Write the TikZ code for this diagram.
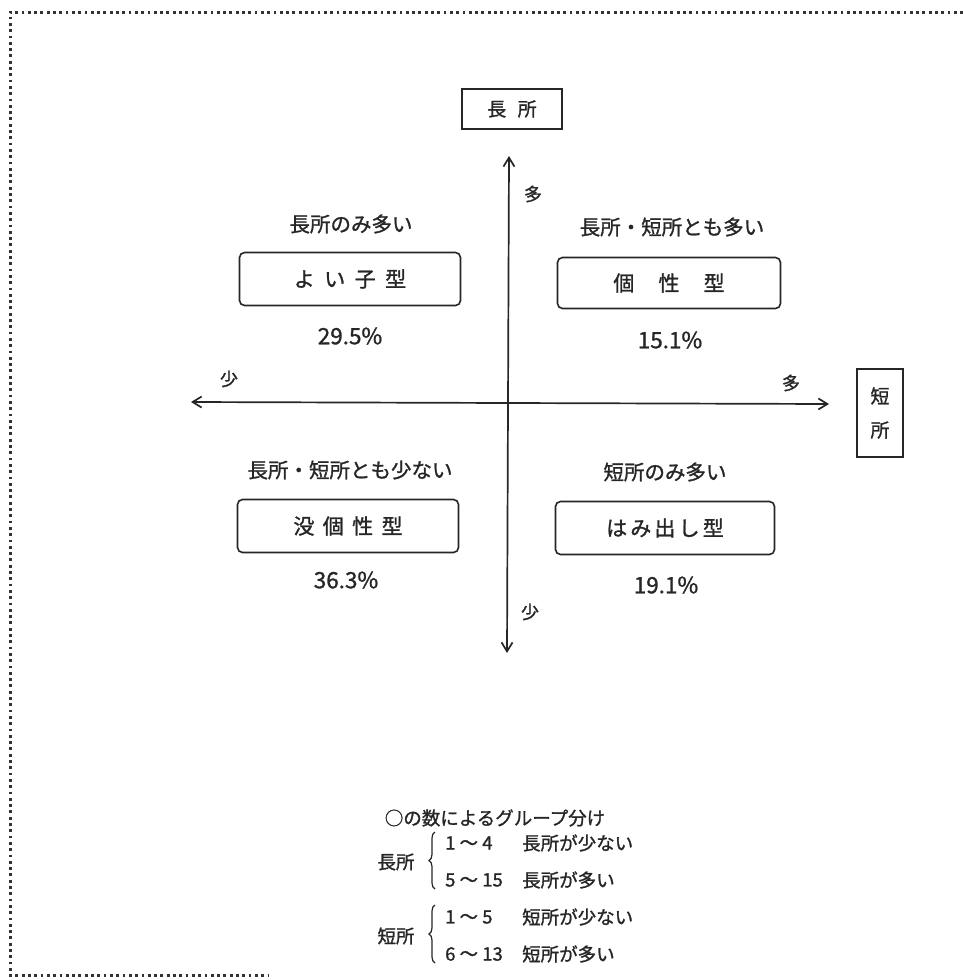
\documentclass[tikz,border=0pt]{standalone}
\usepackage{fontspec}
\setmainfont{Noto Sans CJK JP}[FakeBold=1.2]
\usetikzlibrary{arrows.meta,decorations.pathreplacing}
\begin{document}
\begin{tikzpicture}[x=1pt,y=-1pt,
  typebox/.style={draw=black!85, line width=1.6pt, rounded corners=5pt, minimum width=221pt, minimum height=53pt, inner sep=0pt, font=\fontsize{21}{24}\selectfont, text=black!85},
  axisbox/.style={draw=black!85, line width=1.6pt, inner sep=0pt, text=black!85, font=\fontsize{19}{22}\selectfont},
  lbl/.style={font=\fontsize{20.5}{24}\selectfont, text=black!85, inner sep=0pt},
  pct/.style={font=\fontsize{22.5}{26}\selectfont, text=black!85, inner sep=0pt},
  axislbl/.style={font=\fontsize{18}{20}\selectfont, text=black!85, inner sep=0pt},
  leg/.style={font=\fontsize{18.5}{21}\selectfont, text=black!85, inner sep=0pt},
  axisline/.style={draw=black!85, line width=1.7pt, {Straight Barb[length=9pt,width=11pt,line width=1.7pt]}-{Straight Barb[length=9pt,width=11pt,line width=1.7pt]}},
  dotline/.style={draw=black!80, line width=3pt, dash pattern=on 2.8pt off 3.5pt},
  legbrace/.style={draw=black!85, line width=1.2pt, decorate, decoration={brace, amplitude=6pt}}
]
\useasboundingbox (0,0) rectangle (963,980);

% dotted frame
\coordinate (fTR) at (963,12);
\coordinate (fTL) at (10,12);
\coordinate (fBL) at (10,975);
\coordinate (fBR) at (268,975);
\draw[dotline] (fTR) -- (fTL) -- (fBL) -- (fBR);

% axis boxes
\node[axisbox, minimum width=100pt, minimum height=40pt] (top) at (512,109) {長\hspace{0.6em}所};
\node[axisbox, minimum width=46pt, minimum height=88pt, align=center, font=\fontsize{19}{34}\selectfont] (right) at (880,413) {短\\所};

% axes
\coordinate (vT) at (509,156);
\coordinate (vB) at (507,653);
\coordinate (hL) at (191,402);
\coordinate (hR) at (829,404);
\draw[axisline] (vB) -- (vT);
\draw[axisline] (hL) -- (hR);

\node[axislbl] (mtop) at (533,194) {多};
\node[axislbl] (sbot) at (530,612) {少};
\node[axislbl] (sleft) at (229,379) {少};
\node[axislbl] (mright) at (791,383) {多};

% quadrant 1
\node[lbl] (l1) at (351,224) {長所のみ多い};
\node[typebox] (b1) at (350,279) {よ\hspace{0.45em}い\hspace{0.45em}子\hspace{0.45em}型};
\node[pct] (p1) at (350,336) {29.5\%};

% quadrant 2
\node[lbl] (l2) at (672,227) {長所・短所とも多い};
\node[typebox, minimum width=223pt, minimum height=51pt] (b2) at (669,283) {個\hspace{1.15em}性\hspace{1.15em}型};
\node[pct] (p2) at (670,340) {15.1\%};

% quadrant 3
\node[lbl] (l3) at (350,470) {長所・短所とも少ない};
\node[typebox] (b3) at (348,526) {没\hspace{0.4em}個\hspace{0.4em}性\hspace{0.4em}型};
\node[pct] (p3) at (346,580) {36.3\%};

% quadrant 4
\node[lbl] (l4) at (665,472) {短所のみ多い};
\node[typebox, minimum width=219pt] (b4) at (665,528) {は\hspace{0.15em}み\hspace{0.15em}出\hspace{0.15em}し\hspace{0.15em}型};
\node[pct] (p4) at (666,585) {19.1\%};

% legend
\node[leg] (lt) at (495,818) {○の数によるグループ分け};
\node[leg] (g1) at (396,862) {長所};
\coordinate (br1b) at (435,889);
\coordinate (br1t) at (435,832);
\draw[legbrace] (br1b) -- (br1t);
\node[leg, anchor=west] (r1a) at (445,843) {1 ～ 4};
\node[leg, anchor=west] (r1b) at (522,843) {長所が少ない};
\node[leg, anchor=west] (r2a) at (445,880) {5 ～ 15};
\node[leg, anchor=west] (r2b) at (522,880) {長所が多い};

\node[leg] (g2) at (396,936) {短所};
\coordinate (br2b) at (435,963);
\coordinate (br2t) at (435,905);
\draw[legbrace] (br2b) -- (br2t);
\node[leg, anchor=west] (r3a) at (445,917) {1 ～ 5};
\node[leg, anchor=west] (r3b) at (522,917) {短所が少ない};
\node[leg, anchor=west] (r4a) at (445,954) {6 ～ 13};
\node[leg, anchor=west] (r4b) at (522,954) {短所が多い};
\end{tikzpicture}
\end{document}
